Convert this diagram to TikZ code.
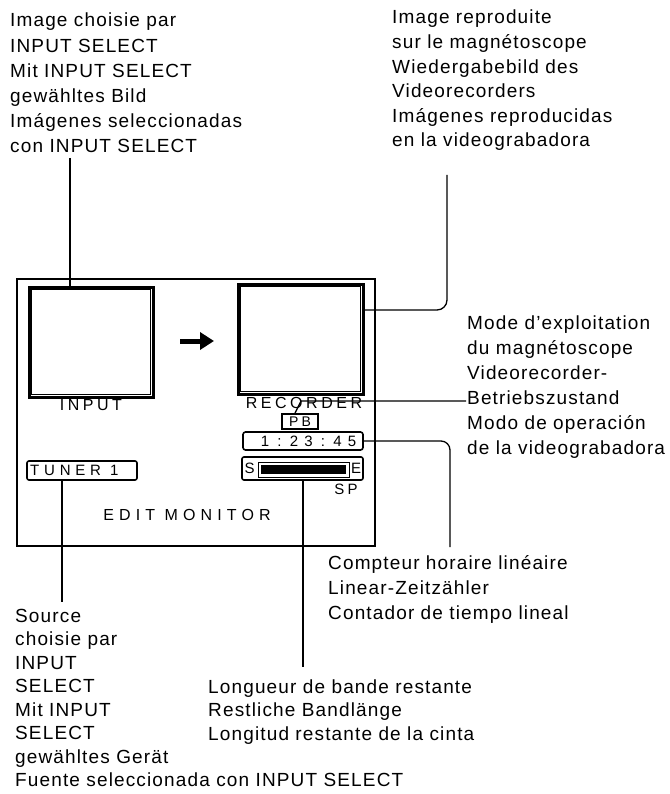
\documentclass[tikz,border=0pt]{standalone}
\usepackage{fontspec}
\usetikzlibrary{arrows.meta}
\setmainfont[LetterSpace=6]{Liberation Sans}
\newfontfamily\panelfont[LetterSpace=22]{Liberation Sans}
\newfontfamily\widepanelfont[LetterSpace=32]{Liberation Sans}
\newcommand{\dg}[1]{\makebox[14.5pt]{#1}}
\begin{document}
\begin{tikzpicture}[x=1pt,y=-1pt,
  txt/.style={anchor=north west, inner sep=0pt, align=left},
  conn/.style={line width=1.3pt},
  scr/.style={draw, line width=3pt, rectangle, inner sep=0pt},
  pbox/.style={draw, line width=1.6pt, rectangle, inner sep=0pt},
  plabel/.style={inner sep=0pt, font=\panelfont\fontsize{16}{16}\selectfont},
  slabel/.style={inner sep=0pt, font=\panelfont\fontsize{15}{15}\selectfont}]
\useasboundingbox (0,0) rectangle (669,794);
\fill[white] (0,0) rectangle (669,794);

% texts
\node[txt, font=\fontsize{19}{25.2}\selectfont] (tlText) at (10,13)
  {Image choisie par\\INPUT SELECT\\Mit INPUT SELECT\\gewähltes Bild\\Imágenes seleccionadas\\con INPUT SELECT};
\node[txt, font=\fontsize{19}{24.6}\selectfont] (trText) at (392,10)
  {Image reproduite\\sur le magnétoscope\\Wiedergabebild des\\Videorecorders\\Imágenes reproducidas\\en la videograbadora};
\node[txt, font=\fontsize{19}{25}\selectfont] (rmText) at (467,316)
  {Mode d’exploitation\\du magnétoscope\\Videorecorder-\\Betriebszustand\\Modo de operación\\de la videograbadora};
\node[txt, font=\fontsize{19}{25}\selectfont] (ctText) at (328,555)
  {Compteur horaire linéaire\\Linear-Zeitzähler\\Contador de tiempo lineal};
\node[txt, font=\fontsize{19}{23.5}\selectfont] (blText) at (15,609)
  {Source\\choisie par\\INPUT\\SELECT\\Mit INPUT\\SELECT\\gewähltes Gerät\\Fuente seleccionada con INPUT SELECT};
\node[txt, font=\fontsize{19}{23.5}\selectfont] (lgText) at (208,679.5)
  {Longueur de bande restante\\Restliche Bandlänge\\Longitud restante de la cinta};

% panel
\node[draw, line width=2pt, minimum width=358pt, minimum height=267pt, inner sep=0pt] (panel) at (196,412.5) {};

% screens
\node[scr, minimum width=124pt, minimum height=110pt] (scrIn) at (91,342) {};
\draw[line width=1pt] ([shift={(4.2,4.2)}]scrIn.north west) rectangle ([shift={(-4.2,-4.2)}]scrIn.south east);
\node[scr, minimum width=125pt, minimum height=110pt] (scrRec) at (300.5,339) {};
\draw[line width=1pt] ([shift={(4.2,4.2)}]scrRec.north west) rectangle ([shift={(-4.2,-4.2)}]scrRec.south east);
\node[plabel] (inLbl) at (91,405) {INPUT};
\node[plabel] (recLbl) at (304,403) {RECORDER};

% arrow
\coordinate (arS) at (180,341);
\coordinate (arE) at (214,341);
\draw[line width=5pt, -{Triangle[length=14pt,width=17pt]}] (arS) -- (arE);

% PB, time, tuner, tape bar
\node[pbox, minimum width=36pt, minimum height=15pt, font=\panelfont\fontsize{14}{14}\selectfont] (pb) at (300,421.5) {PB};
\node[pbox, rounded corners=2.5pt, minimum width=120pt, minimum height=18pt] (time) at (303,441) {};
\node[slabel, font=\fontsize{15}{15}\selectfont] (timeTxt) at (308.5,441) {\dg{1}\dg{:}\dg{2}\dg{3}\dg{:}\dg{4}\dg{5}};
\node[pbox, rounded corners=2pt, minimum width=110pt, minimum height=19pt] (tuner) at (82,470.5) {};
\node[plabel, anchor=west, font=\widepanelfont\fontsize{15}{15}\selectfont] (tunerTxt) at (30,470.5) {TUNER 1};
\node[pbox, rounded corners=2pt, minimum width=121pt, minimum height=23pt] (se) at (302.5,468.5) {};
\node[slabel] (sTxt) at (249.5,468) {S};
\node[slabel] (eTxt) at (356,468) {E};
\draw[line width=0.8pt] (258,462) rectangle (349,477);
\fill (261,465) rectangle (346,474);
\node[slabel] (spTxt) at (346,489) {SP};
\node[plabel, font=\widepanelfont\fontsize{16}{16}\selectfont] (editTxt) at (187,515) {EDIT MONITOR};

% connectors
\coordinate (inTop) at (70,158);
\draw[conn] (inTop) -- (inTop |- scrIn.north);
\coordinate (recTop) at (447,175);
\draw[conn, rounded corners=10pt] (scrRec.east |- 0,310) -- (recTop |- 0,310) -- (recTop);
\coordinate (pbBend) at (301,401);
\coordinate (modeEnd) at (466,401);
\draw[conn] ([xshift=-5pt]pb.north) -- (pbBend) -- (modeEnd);
\coordinate (timeEnd) at (450,547);
\draw[conn, rounded corners=9pt] (time.east) -- (timeEnd |- time.east) -- (timeEnd);
\coordinate (tunerEnd) at (62,602);
\draw[conn] (tunerEnd |- tuner.south) -- (tunerEnd);
\coordinate (seEnd) at (303,667);
\draw[conn] (seEnd |- se.south) -- (seEnd);
\end{tikzpicture}
\end{document}
